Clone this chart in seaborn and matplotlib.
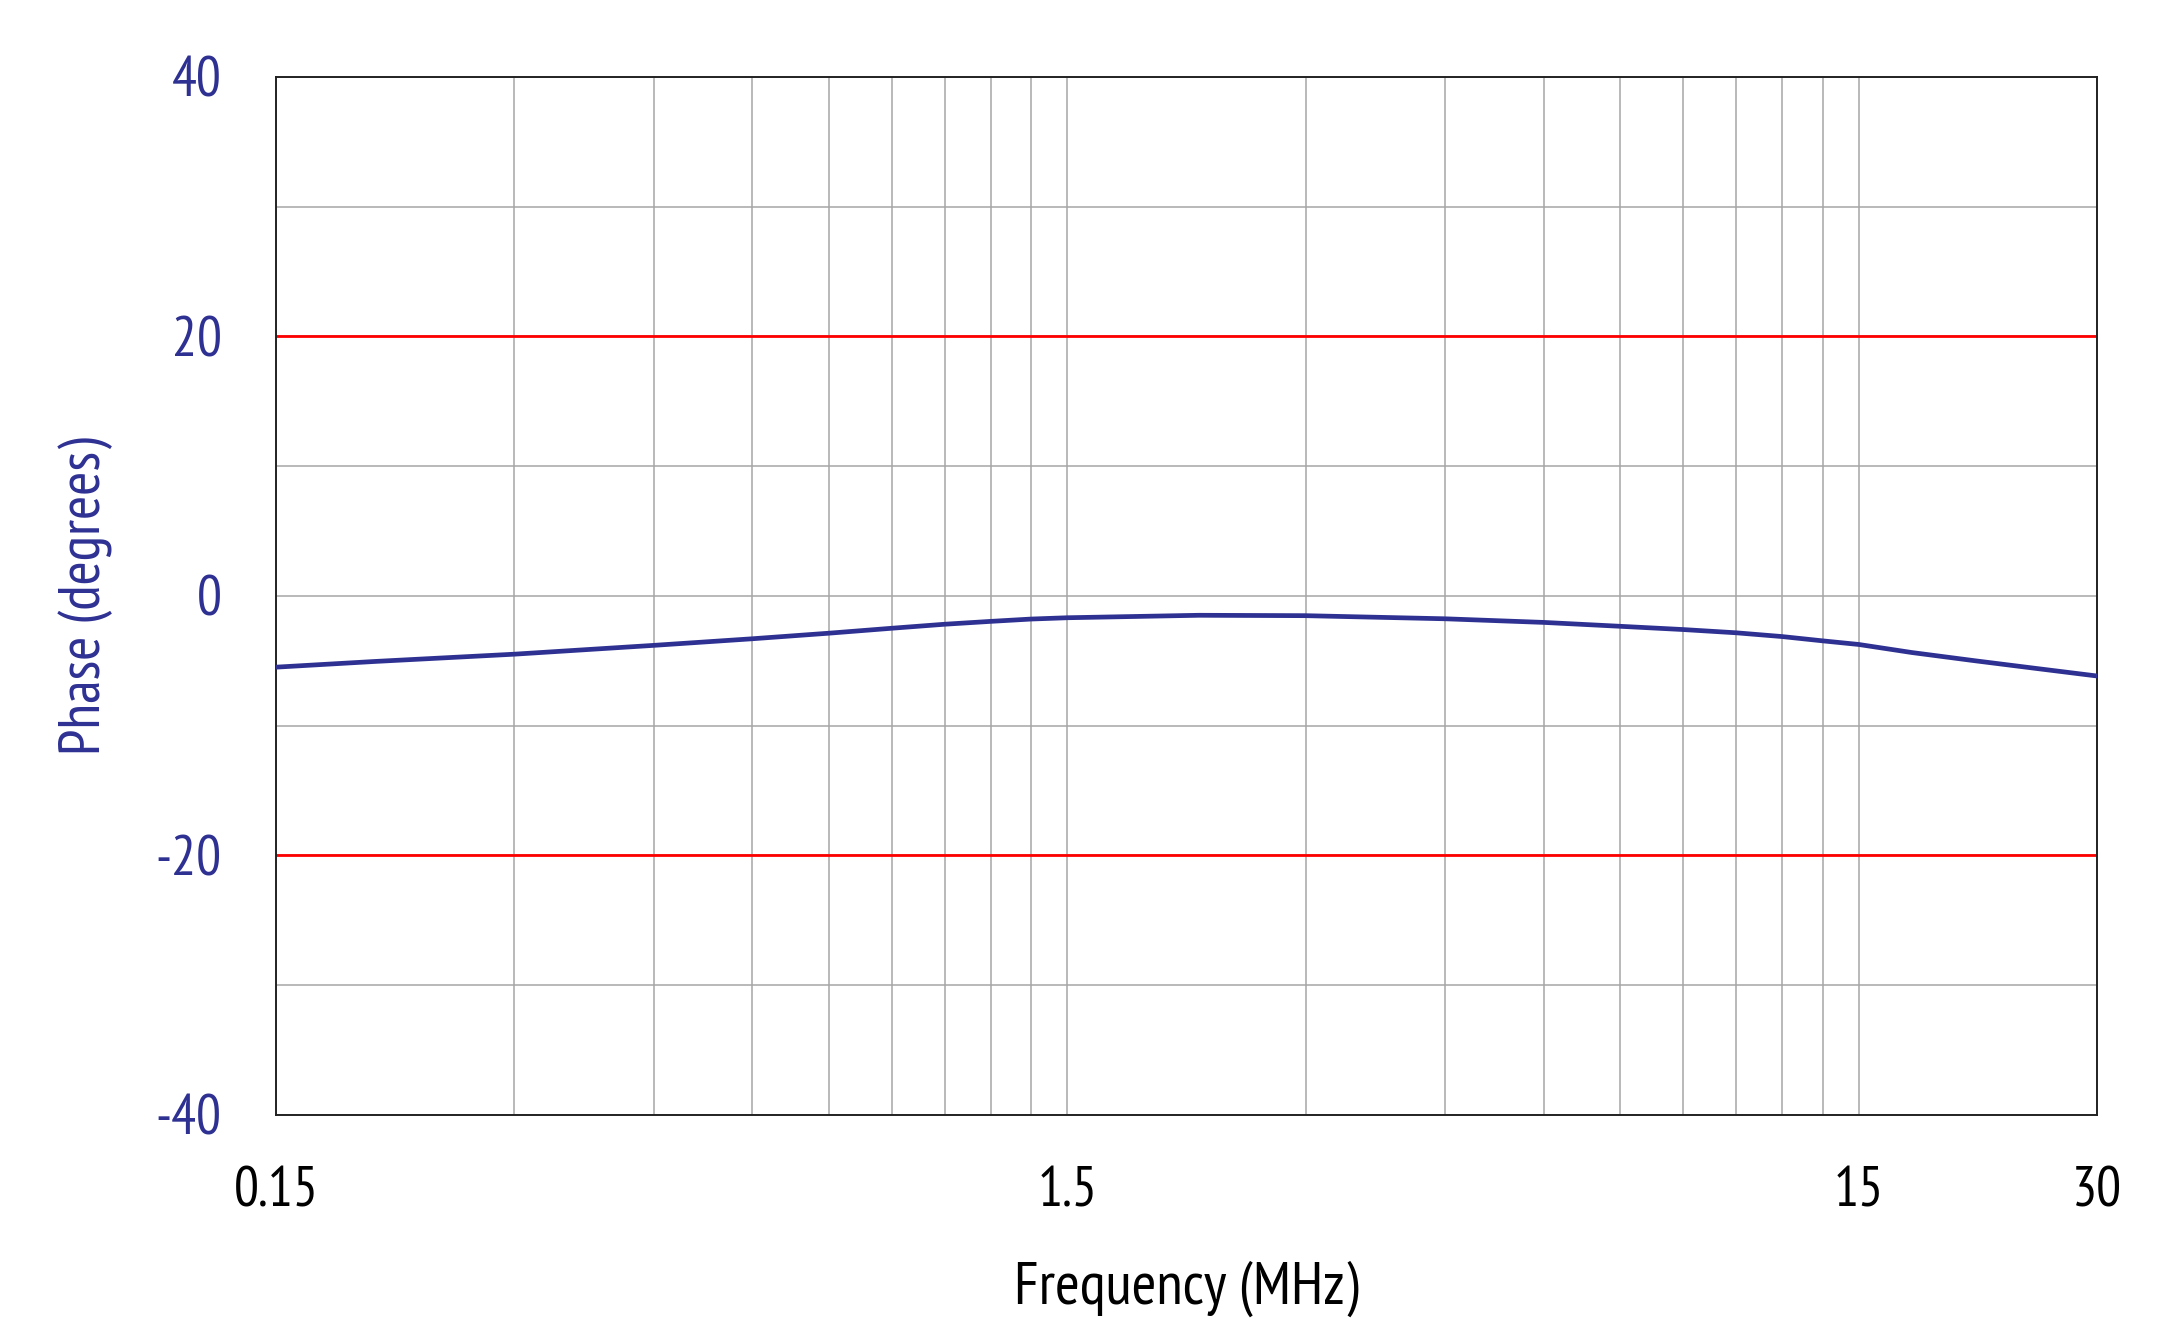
import numpy as np
import pandas as pd
import matplotlib
matplotlib.use('Agg')
import matplotlib.pyplot as plt
import matplotlib.ticker as mticker
import seaborn as sns

# Phase curve (MHz, degrees)
freq_mhz = [0.15, 0.2, 0.3, 0.45, 0.6, 0.75, 0.9, 1.05, 1.2, 1.35, 1.5, 2.2, 3.0, 4.5,
            6.0, 7.5, 9.0, 10.5, 12.0, 13.5, 15.0, 17.5, 21.0, 25.0, 30.0]
phase_deg = [-5.5, -5.06, -4.5, -3.82, -3.31, -2.88, -2.5, -2.19, -1.97, -1.79, -1.69, -1.5, -1.53, -1.77,
             -2.05, -2.35, -2.6, -2.85, -3.14, -3.47, -3.75, -4.37, -5.0, -5.58, -6.18]
limit_deg = [20, -20]

x_ticks = [0.15, 1.5, 15, 30]
x_tick_labels = ['0.15', '1.5', '15', '30']
y_ticks = [-40, -20, 0, 20, 40]

navy = '#2E3192'

sns.set_style('white')
plt.rcParams['font.family'] = ['PT Sans Narrow', 'Open Sans Condensed', 'Fira Sans Condensed',
                               'Roboto Condensed', 'Liberation Sans Narrow', 'DejaVu Sans']
plt.rcParams['axes.unicode_minus'] = False

df = pd.DataFrame({'Frequency': freq_mhz, 'Phase': phase_deg})

fig, ax = plt.subplots(figsize=(21.73, 13.27), dpi=100)
fig.subplots_adjust(left=0.127, right=0.965, top=0.942, bottom=0.160)

ax.set_xscale('log')
ax.set_xlim(0.15, 30)
ax.set_ylim(-40, 40)

# grid: minor verticals at 0.15*k*10^n
minor_x = [0.15 * k * 10 ** n for n in range(0, 2) for k in range(2, 10)]
minor_x = [v for v in minor_x if v < 30]
ax.xaxis.set_major_locator(mticker.FixedLocator(x_ticks))
ax.xaxis.set_minor_locator(mticker.FixedLocator(minor_x))
ax.xaxis.set_major_formatter(mticker.FixedFormatter(x_tick_labels))
ax.xaxis.set_minor_formatter(mticker.NullFormatter())
ax.set_yticks(y_ticks)
ax.yaxis.set_minor_locator(mticker.FixedLocator([-30, -10, 10, 30]))

ax.grid(True, which='both', color='#a6a6a6', linewidth=1.1)
ax.set_axisbelow(True)

for lim in limit_deg:
    ax.axhline(lim, color='#ff0000', linewidth=2.0, zorder=2)

sns.lineplot(data=df, x='Frequency', y='Phase', color=navy, linewidth=3.4, ax=ax, zorder=3)

for side in ax.spines.values():
    side.set_color('#222222')
    side.set_linewidth(1.4)

ax.tick_params(which='both', length=0)
ax.tick_params(axis='y', labelcolor=navy, labelsize=40, pad=39)
ax.tick_params(axis='x', labelcolor='black', labelsize=40, pad=37)

ax.set_xlabel('Frequency (MHz)', fontsize=43, color='black', labelpad=31)
ax.set_ylabel('Phase (degrees)', fontsize=42, color=navy, labelpad=31)

plt.savefig('out.png', dpi=100)
plt.close()
